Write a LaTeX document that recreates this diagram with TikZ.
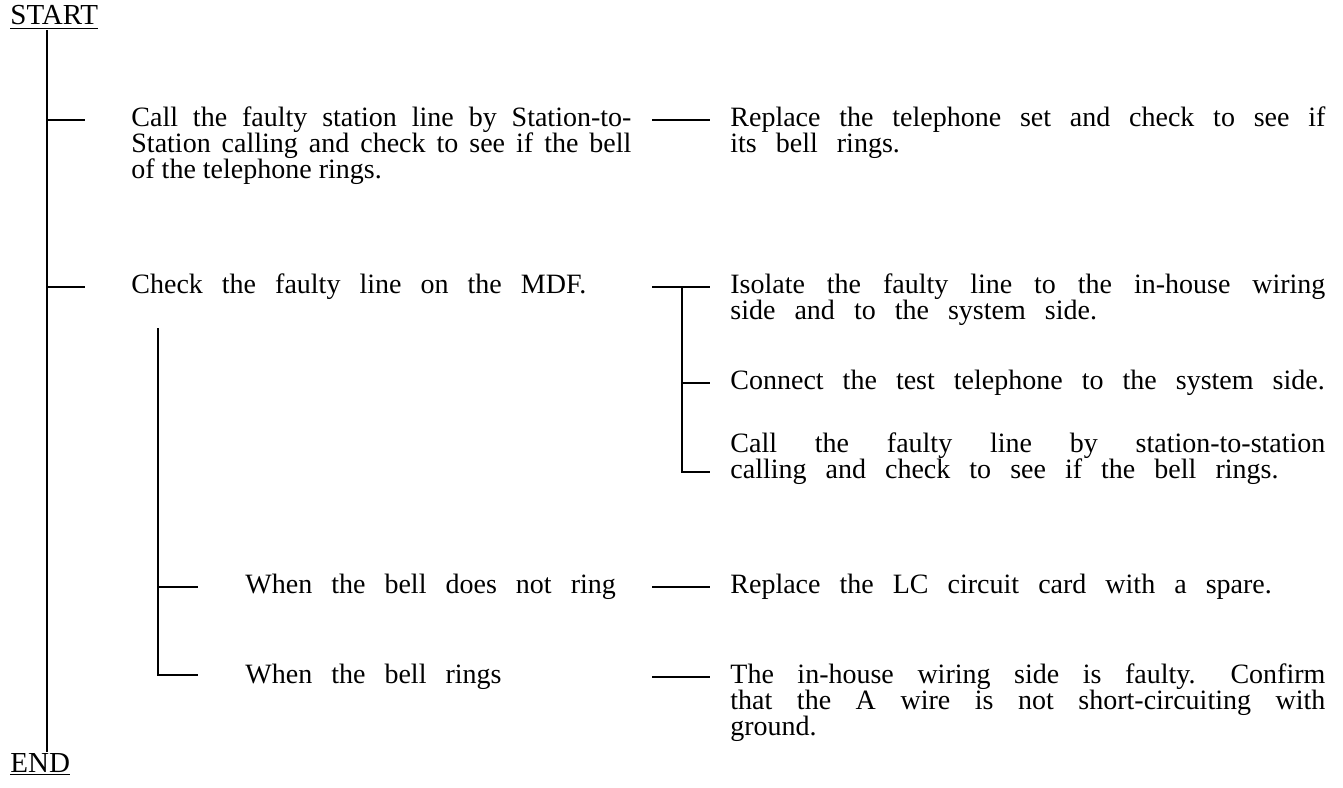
\documentclass[tikz,border=0pt]{standalone}
\usepackage{fontspec}
\setmainfont{Liberation Serif}
\hyphenpenalty=10000
\newcommand\widespace{\spaceskip=0.68em plus 0.35em minus 0.2em\relax}
\newcommand\plainspace{\spaceskip=0pt\relax}

\tikzset{
    branch/.style={line width=1.4pt},
    note/.style={anchor=base west, inner sep=0pt,
        font=\fontsize{14}{13}\selectfont\widespace},
    block/.style={note, text width=#1, align=justify},
    tightblock/.style={block=#1, font=\fontsize{14}{13}\selectfont\plainspace},
    endmark/.style={anchor=base west, inner sep=0pt, font=\fontsize{14.5}{16}\selectfont}
}

\begin{document}
\begin{tikzpicture}[x=0.5pt, y=-0.5pt]
    \useasboundingbox (0,0) rectangle (1343,787);

    % Start and end of the procedure
    \node[endmark] (start) at (10,25) {\underline{START}};
    \node[endmark] (finish) at (10,772) {\underline{END}};
    \coordinate (top) at (47,30);
    \coordinate (bottom) at (47,752);
    \draw[branch] (top) -- (bottom);

    % Step 1
    \coordinate (s1) at (47,120);
    \coordinate (s1e) at (85,120);
    \draw[branch] (s1) -- (s1e);
    \node[tightblock=250pt] (call) at (131,126)
        {Call the faulty station line by Station-to-\linebreak Station calling and check to see if the bell\linebreak of the telephone rings.};
    \coordinate (c1a) at (652,120);
    \coordinate (c1b) at (710,120);
    \draw[branch] (c1a) -- (c1b);
    \node[block=297.5pt] (replace) at (730,126)
        {Replace the telephone set and check to see if\linebreak its bell rings.};

    % Step 2
    \coordinate (s2) at (47,287);
    \coordinate (s2e) at (85,287);
    \draw[branch] (s2) -- (s2e);
    \node[note] (mdf) at (131,293) {Check the faulty line on the MDF.};
    \coordinate (c2a) at (652,287);
    \coordinate (c2b) at (710,287);
    \coordinate (c2m) at (682,287);
    \coordinate (c3m) at (682,383);
    \coordinate (c3b) at (710,383);
    \coordinate (c4m) at (682,472);
    \coordinate (c4b) at (710,472);
    \draw[branch] (c2a) -- (c2b);
    \draw[branch] (c2m) -- (c4m) -- (c4b);
    \draw[branch] (c3m) -- (c3b);
    \node[block=297.5pt] (isolate) at (730,293)
        {Isolate the faulty line to the in-house wiring\linebreak side and to the system side.};
    \node[note] (connect) at (730,389) {Connect the test telephone to the system side.};
    \node[block=297.5pt] (test) at (730,452)
        {Call the faulty line by station-to-station\linebreak calling and check to see if the bell rings.};

    % Results of the test call
    \coordinate (r0) at (158,328);
    \coordinate (r2) at (158,675);
    \draw[branch] (r0) -- (r2) -- (198,675);
    \coordinate (r1) at (158,587);
    \coordinate (r1e) at (198,587);
    \draw[branch] (r1) -- (r1e);
    \node[note] (noring) at (245,593) {When the bell does not ring};
    \node[note] (ring) at (245,683) {When the bell rings};
    \coordinate (c5a) at (652,587);
    \coordinate (c5b) at (710,587);
    \draw[branch] (c5a) -- (c5b);
    \node[note] (lc) at (730,593) {Replace the LC circuit card with a spare.};
    \coordinate (c6a) at (652,677);
    \coordinate (c6b) at (710,677);
    \draw[branch] (c6a) -- (c6b);
    \node[block=297.5pt] (wiring) at (730,683)
        {The in-house wiring side is faulty. Confirm\linebreak that the A wire is not short-circuiting with\linebreak ground.};
\end{tikzpicture}
\end{document}
